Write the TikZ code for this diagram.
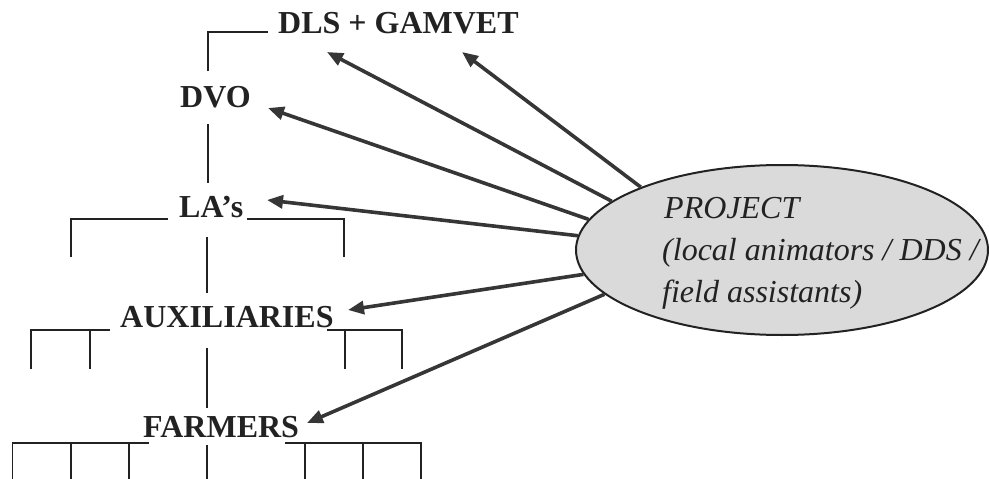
\documentclass[tikz,border=0pt]{standalone}
\usepackage{fontspec}
\setmainfont{Liberation Serif}
\usetikzlibrary{shapes.geometric,arrows.meta}
\definecolor{ink}{HTML}{222222}
\definecolor{arr}{HTML}{363636}
\definecolor{ellfill}{HTML}{DADADA}
\begin{document}
\begin{tikzpicture}[x=1pt,y=-1pt,
  lbl/.style={anchor=base west,inner sep=0pt,text=ink,font=\fontsize{32}{38}\selectfont\bfseries},
  itl/.style={anchor=base west,inner sep=0pt,text=ink,font=\fontsize{32}{38}\selectfont\itshape},
  tree/.style={draw=ink,line width=1.5pt},
  link/.style={draw=arr,line width=3.6pt,-{Triangle[length=16pt,width=13pt]}},
  blob/.style={ellipse,draw=ink,line width=2pt,fill=ellfill,minimum width=412pt,minimum height=170pt,inner sep=0pt}]
\useasboundingbox (0,0) rectangle (989,479);
% nodes
\node[blob] (proj) at (782,250) {};
\node[itl] (p1) at (664,218) {PROJECT};
\node[itl] (p2) at (662,260) {(local animators / DDS /};
\node[itl] (p3) at (662,302) {field assistants)};
\node[lbl] (dls) at (278,34) {DLS + GAMVET};
\node[lbl] (dvo) at (180,107) {DVO};
\node[lbl] (las) at (179,217) {LA’s};
\node[lbl] (aux) at (120,327) {AUXILIARIES};
\node[lbl] (far) at (143,437) {FARMERS};
% top bracket
\coordinate (c1) at (208,71);
\coordinate (c2) at (208,32);
\coordinate (c3) at (268,32);
\coordinate (c4) at (208,124);
\coordinate (c5) at (208,183);
\draw[tree] (c1) -- (c2) -- (c3);
\draw[tree] (c4) -- (c5);
% LA's level
\coordinate (l1) at (71,257);
\coordinate (l2) at (71,219);
\coordinate (l3) at (168,219);
\coordinate (l4) at (247,219);
\coordinate (l5) at (344,219);
\coordinate (l6) at (344,257);
\coordinate (l7) at (207,237);
\coordinate (l8) at (207,293);
\draw[tree] (l1) -- (l2) -- (l3);
\draw[tree] (l4) -- (l5) -- (l6);
\draw[tree] (l7) -- (l8);
% AUXILIARIES level
\coordinate (a1) at (31,369);
\coordinate (a2) at (31,330);
\coordinate (a3) at (110,330);
\coordinate (a4) at (90,330);
\coordinate (a5) at (90,369);
\coordinate (a6) at (327,330);
\coordinate (a7) at (402,330);
\coordinate (a8) at (402,369);
\coordinate (a9) at (345,330);
\coordinate (a10) at (345,369);
\coordinate (a11) at (207,348);
\coordinate (a12) at (207,408);
\draw[tree] (a1) -- (a2) -- (a3);
\draw[tree] (a4) -- (a5);
\draw[tree] (a6) -- (a7) -- (a8);
\draw[tree] (a9) -- (a10);
\draw[tree] (a11) -- (a12);
% FARMERS level
\coordinate (f1) at (12.5,479);
\coordinate (f2) at (12.5,443);
\coordinate (f3) at (149,443);
\coordinate (f4) at (71,443);
\coordinate (f5) at (71,479);
\coordinate (f6) at (129,443);
\coordinate (f7) at (129,479);
\coordinate (f8) at (285,443);
\coordinate (f9) at (421,443);
\coordinate (f10) at (421,479);
\coordinate (f11) at (305,443);
\coordinate (f12) at (305,479);
\coordinate (f13) at (363,443);
\coordinate (f14) at (363,479);
\coordinate (f15) at (207,445);
\coordinate (f16) at (207,479);
\draw[tree] (f1) -- (f2) -- (f3);
\draw[tree] (f4) -- (f5);
\draw[tree] (f6) -- (f7);
\draw[tree] (f8) -- (f9) -- (f10);
\draw[tree] (f11) -- (f12);
\draw[tree] (f13) -- (f14);
\draw[tree] (f15) -- (f16);
% arrow tips
\coordinate (tgam) at (462,52);
\coordinate (tdls) at (327,52);
\coordinate (tdvo) at (268,108);
\coordinate (tla) at (267,200);
\coordinate (taux) at (348,310);
\coordinate (tfar) at (307,423);
\draw[link] (proj.156.6) -- (tgam);
\draw[link] (proj.164.5) -- (tdls);
\draw[link] (proj.171.6) -- (tdvo);
\draw[link] (proj.176.9) -- (tla);
\draw[link] (proj.187.5) -- (taux);
\draw[link] (proj.194.5) -- (tfar);
\end{tikzpicture}
\end{document}
